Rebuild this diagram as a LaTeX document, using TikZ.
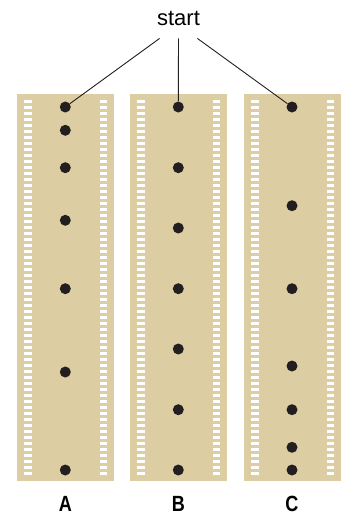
\documentclass[tikz,border=0pt]{standalone}
\usepackage{fontspec}
\setmainfont{Liberation Sans}
\newfontfamily\labelfont[FakeStretch=0.82, BoldFont={Liberation Sans Bold}]{Liberation Sans}
\usetikzlibrary{positioning}
\definecolor{filmtan}{RGB}{220,206,162}
\definecolor{dotblack}{RGB}{35,31,32}

\begin{document}
\begin{tikzpicture}[x=1pt, y=-1pt,
  dot/.style={circle, fill=dotblack, inner sep=0pt, minimum size=11pt},
  lbl/.style={anchor=base, inner sep=0.5pt, font=\labelfont\fontsize{22}{22}\selectfont\bfseries},
  link/.style={draw=dotblack, line width=0.9pt}]
\useasboundingbox (0,0) rectangle (347,515);
% film strips with sprocket holes
\foreach \xl in {17, 130, 244} {
  \fill[filmtan] (\xl,94) rectangle ++(97,387);
  \foreach \i in {0,...,62} {
    \fill[white] (\xl+7,100+6*\i) rectangle ++(7.5,3.2);
    \fill[white] (\xl+82.5,100+6*\i) rectangle ++(7.5,3.2);
  }
}
% frames
\foreach \y [count=\k] in {107,130.3,167.7,220.3,288.7,372,470}
  \node[dot] (A\k) at (65.3,\y) {};
\foreach \y [count=\k] in {107,167.7,228,288.7,349,409.7,470}
  \node[dot] (B\k) at (178.3,\y) {};
\foreach \y [count=\k] in {107,205.7,288.7,366,409.7,447.3,470}
  \node[dot] (C\k) at (292,\y) {};
\node[lbl] (labA) at (65.3,511) {A};
\node[lbl] (labB) at (178.3,511) {B};
\node[lbl] (labC) at (292,511) {C};
\node[anchor=base, font=\fontsize{22}{22}\selectfont] (start) at (178.5,25) {start};
\draw[link] ([xshift=6pt, yshift=-9.7pt]start.south west) -- (A1);
\draw[link] ([yshift=-9.7pt]start.south) -- (B1);
\draw[link] ([xshift=-6pt, yshift=-9.7pt]start.south east) -- (C1);
\end{tikzpicture}
\end{document}
